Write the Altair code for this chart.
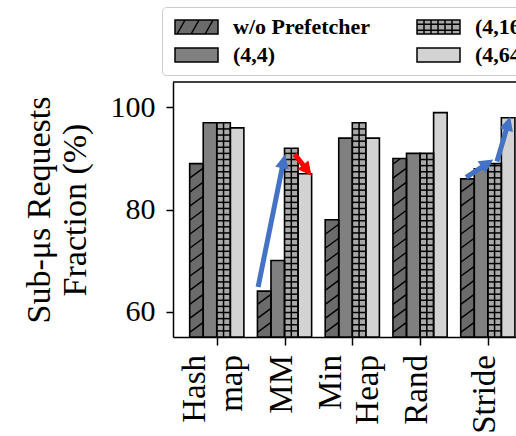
import json
import math
import altair as alt
import pandas as pd

# ---------------- data ----------------
groups = ["Hashmap", "MM", "MinHeap", "Rand", "Stride"]
group_lines = [["Hash", "map"], ["MM"], ["Min", "Heap"], ["Rand"], ["Stride"]]
configs = ["w/o Prefetcher", "(4,4)", "(4,16)", "(4,64)"]
wo_prefetcher = [89, 64, 78, 90, 86]
p_4_4 = [97, 70, 94, 91, 88]
p_4_16 = [97, 92, 97, 91, 89]
p_4_64 = [96, 87, 94, 99, 98]
fills = ["#6b6b6b", "#808080", "#a9a9a9", "#d3d3d3"]

# annotation arrows (x in group-index units, y in percent)
arrow_id = ["mm_up", "mm_down", "stride_a", "stride_b"]
arrow_color = ["#4472C4", "#FF0000", "#4472C4", "#4472C4"]
arrow_x0 = [0.61, 1.15, 3.68, 4.135]
arrow_y0 = [64.8, 90.8, 86.3, 89.4]
arrow_x1 = [1.005, 1.40, 4.08, 4.33]
arrow_y1 = [90.8, 86.6, 89.8, 98.2]

# ---------------- layout ----------------
W, H = 343, 255
XDOM = [-0.646, 4.416]
YDOM = [55, 105]
BASE = YDOM[0]
FONT = "Liberation Serif"
kx = W / (XDOM[1] - XDOM[0])
ky = H / (YDOM[1] - YDOM[0])
LABEL_LH = 37

rows = []
for gi, g in enumerate(groups):
    for ci, (c, series) in enumerate(zip(configs, [wo_prefetcher, p_4_4, p_4_16, p_4_64])):
        rows.append({"group": g, "config": c, "value": series[gi], "gi": gi, "ci": ci})
df = pd.DataFrame(rows)

lab_rows = []
for gi, lines in enumerate(group_lines):
    for li, t in enumerate(lines):
        lab_rows.append({"text": t, "gi": gi, "li": li, "n": len(lines)})
df_lab = pd.DataFrame(lab_rows)

xscale = alt.Scale(domain=XDOM, nice=False, zero=False)
yscale = alt.Scale(domain=YDOM, nice=False, zero=False)
xaxis = alt.Axis(values=[0, 1, 2, 3, 4], labels=False, title=None, grid=False,
                 tickSize=8, tickWidth=1.5, domainWidth=1.5)
yaxis = alt.Axis(values=[60, 80, 100], title=["Sub-\u03bcs Requests", "Fraction (%)"], grid=False,
                 labelFontSize=30, labelPadding=11, tickSize=7, tickWidth=1.5, domainWidth=1.5,
                 labelColor="black", labelFont=FONT, titleFont=FONT, titleFontSize=34,
                 titleFontWeight="normal", titleColor="black", titleLineHeight=36, titlePadding=18)


def X(f):
    return alt.X(f, scale=xscale, axis=xaxis)


def Y(f):
    return alt.Y(f, scale=yscale, axis=yaxis)


pos = dict(xc="datum.gi + (datum.ci - 1.5) * 0.2", xl="datum.gi + (datum.ci - 1.5) * 0.2 - 0.1",
           xr="datum.gi + (datum.ci - 1.5) * 0.2 + 0.1")

# legend symbol paths (units of 7px, centre at origin)
rect_p = "M-1,-1H5.143V1H-1Z"
diag_p = rect_p + "".join(f"M{a:.2f},1L{a + 1.14:.2f},-1" for a in [-0.7, 1.3, 3.3])
grid_p = rect_p + "".join(f"M{v},-1V1" for v in [0, 1, 2, 3, 4]) + "M-1,-0.4H5.143M-1,0.45H5.143"
shape_expr = (f"datum.value === 'w/o Prefetcher' ? '{diag_p}' : "
              f"(datum.value === '(4,16)' ? '{grid_p}' : '{rect_p}')")

legend = alt.Legend(orient="none", legendX=-11, legendY=-75, columns=2, values=configs,
                    title=None, columnPadding=42, rowPadding=6, labelOffset=40, padding=9,
                    strokeColor="#cccccc", cornerRadius=4, fillColor="white", symbolSize=196,
                    symbolStrokeColor="black", symbolStrokeWidth=1.5, labelFont=FONT,
                    labelFontSize=22, labelFontWeight="bold", labelColor="black", labelLimit=0,
                    symbolOffset=0, symbolType=alt.ExprRef(expr=shape_expr))

base = alt.Chart(df)

bars = base.transform_calculate(**pos).mark_rect(strokeWidth=0).encode(
    x=X("xl:Q"), x2="xr:Q", y=Y("value:Q"), y2=alt.datum(BASE),
    fill=alt.Fill("config:N", scale=alt.Scale(domain=configs, range=fills), legend=legend))

RISE, PERIOD = 1.96, 2.75
hatch = base.transform_filter("datum.ci == 0").transform_calculate(**pos).transform_calculate(
    s=f"sequence({BASE + 0.9}, datum.value, {PERIOD})").transform_flatten(["s"]).transform_calculate(
    ye=f"min(datum.s + {RISE}, datum.value)",
    xe=f"datum.xl + 0.2 * (datum.ye - datum.s) / {RISE}").mark_rule(
    color="black", strokeWidth=1.4).encode(x=X("xl:Q"), x2="xe:Q", y=Y("s:Q"), y2="ye:Q")

gridv = base.transform_filter("datum.ci == 2").transform_calculate(**pos).mark_rule(
    color="black", strokeWidth=1.5).encode(x=X("xc:Q"), y=Y("value:Q"), y2=alt.datum(BASE))

STEP = 1.2
gridh = base.transform_filter("datum.ci == 2").transform_calculate(**pos).transform_calculate(
    s=f"sequence({BASE + STEP}, datum.value, {STEP})").transform_flatten(["s"]).mark_rule(
    color="black", strokeWidth=1.5).encode(x=X("xl:Q"), x2="xr:Q", y=Y("s:Q"))

outline = base.transform_calculate(**pos).mark_rect(fillOpacity=0, stroke="black",
                                                     strokeWidth=1.6).encode(
    x=X("xl:Q"), x2="xr:Q", y=Y("value:Q"), y2=alt.datum(BASE))

# x category labels (rotated, multi-line groups centred on their tick)
xlabels = alt.Chart(df_lab).transform_calculate(
    xt=f"datum.gi + ((datum.li - (datum.n - 1) / 2) * {LABEL_LH} - 3) / {kx}").mark_text(
    angle=270, align="right", baseline="middle", font=FONT, fontSize=33, color="black").encode(
    x=X("xt:Q"), y=alt.value(H + 18), text="text:N")

# arrows
HEAD = 14
line_rows, head_rows = [], []
for i, aid in enumerate(arrow_id):
    x0, y0, x1, y1 = arrow_x0[i], arrow_y0[i], arrow_x1[i], arrow_y1[i]
    dxp, dyp = (x1 - x0) * kx, (y1 - y0) * ky
    ln = math.hypot(dxp, dyp)
    bx = x1 - (HEAD - 3) * dxp / ln / kx
    by = y1 - (HEAD - 3) * dyp / ln / ky
    line_rows += [{"id": aid, "color": arrow_color[i], "k": 0, "x": x0, "y": y0},
                  {"id": aid, "color": arrow_color[i], "k": 1, "x": bx, "y": by}]
    ang = math.degrees(math.atan2(dxp, dyp)) % 360
    head_rows.append({"id": aid, "color": arrow_color[i], "x": x1, "y": y1, "ang": ang})

shafts = alt.Chart(pd.DataFrame(line_rows)).mark_line(strokeWidth=5, strokeCap="butt").encode(
    x=X("x:Q"), y=Y("y:Q"), detail="id:N", order="k:Q", color=alt.Color("color:N", scale=None))

heads = alt.Chart(pd.DataFrame(head_rows)).mark_point(
    filled=True, shape="M0,0L0.5,1L-0.5,1Z", size=4 * HEAD * HEAD, opacity=1, strokeWidth=0).encode(
    x=X("x:Q"), y=Y("y:Q"), angle=alt.Angle("ang:Q", scale=None),
    color=alt.Color("color:N", scale=None))

top = alt.Chart(pd.DataFrame({"a": [0]})).mark_rule(color="black", strokeWidth=1.5).encode(
    x=alt.value(0), x2=alt.value(W + 10), y=alt.value(0))

chart = alt.layer(bars, hatch, gridv, gridh, outline, shafts, heads, top, xlabels).properties(
    width=W, height=H, autosize=alt.AutoSizeParams(type="none"),
    padding={"left": 173, "top": 82, "right": 0, "bottom": 99},
    background="white",
).configure_view(stroke=None).configure_axis(domainColor="black", tickColor="black")

chart.save("out.html", embed_options={"renderer": "svg", "actions": False})
